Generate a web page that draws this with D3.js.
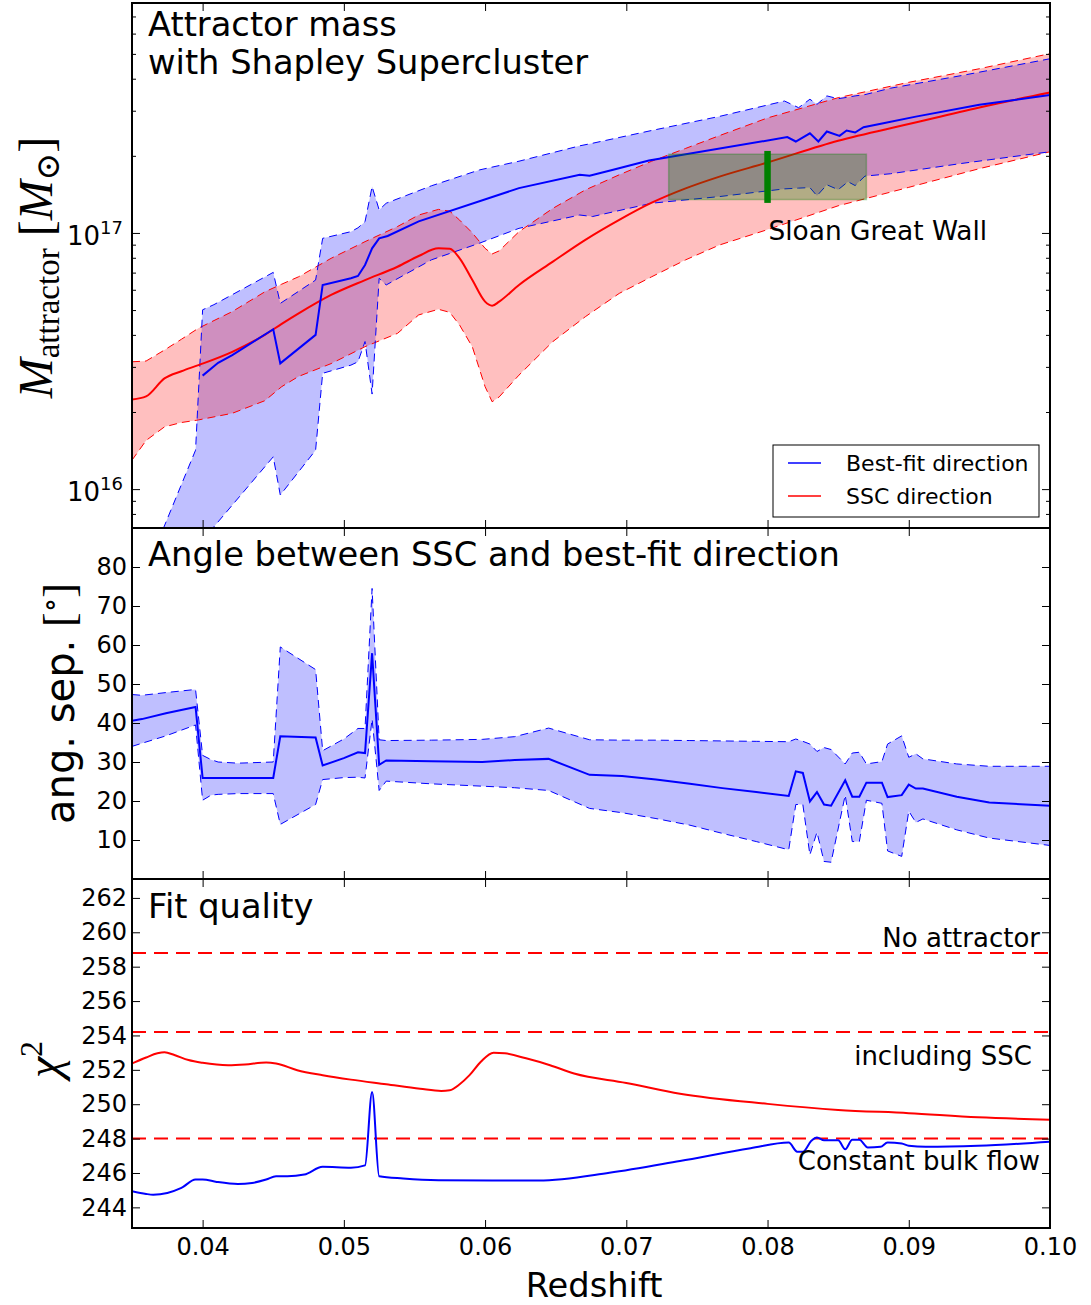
<!DOCTYPE html>
<html>
<head>
<meta charset="utf-8">
<script src="https://cdn.jsdelivr.net/npm/d3@7"></script>
<style>
  body { margin: 0; background: #fff; }
  svg text { font-family: "DejaVu Sans", sans-serif; fill: #000; }
  .math { font-family: "Liberation Serif", "DejaVu Serif", serif; }
</style>
</head>
<body>
<div id="chart"></div>
<script>
// ---- data -------------------------------------------------------------

// SSC direction: log10 attractor mass [Msun], best value and 1-sigma band
const sscZ     = [0.035, 0.036, 0.0373, 0.0385, 0.0397, 0.0421, 0.0444, 0.0456, 0.0468, 0.0491, 0.0515, 0.0538, 0.0553, 0.0567, 0.0575, 0.0582, 0.0591, 0.060, 0.0605, 0.061, 0.0624, 0.0648, 0.0671, 0.0695, 0.0718, 0.0742, 0.0766, 0.080, 0.085, 0.090, 0.095, 0.100];
const sscLogM  = [16.350, 16.362, 16.432, 16.460, 16.484, 16.536, 16.602, 16.645, 16.686, 16.758, 16.816, 16.868, 16.910, 16.940, 16.938, 16.901, 16.816, 16.732, 16.716, 16.732, 16.797, 16.888, 16.973, 17.051, 17.118, 17.174, 17.220, 17.275, 17.360, 17.425, 17.490, 17.548];
const sscLogLo = [16.113, 16.190, 16.243, 16.260, 16.270, 16.296, 16.345, 16.400, 16.440, 16.490, 16.556, 16.608, 16.680, 16.702, 16.690, 16.640, 16.555, 16.400, 16.341, 16.360, 16.445, 16.576, 16.673, 16.764, 16.829, 16.895, 16.953, 17.013, 17.106, 17.178, 17.251, 17.317];
const sscLogHi = [16.497, 16.500, 16.543, 16.585, 16.628, 16.693, 16.770, 16.800, 16.829, 16.901, 16.966, 17.025, 17.070, 17.092, 17.085, 17.050, 17.000, 16.940, 16.918, 16.930, 17.005, 17.096, 17.168, 17.227, 17.280, 17.330, 17.380, 17.449, 17.528, 17.588, 17.641, 17.700];

// best-fit direction: 1-sigma band of log10 mass
const bestBandZ = [0.0365, 0.0395, 0.040, 0.0408, 0.045, 0.0455, 0.048, 0.0485, 0.0505, 0.051, 0.0515, 0.052, 0.0525, 0.053, 0.0562, 0.0596, 0.0624, 0.0667, 0.0676, 0.0718, 0.0766, 0.0812, 0.0822, 0.0830, 0.0835, 0.0842, 0.0850, 0.0857, 0.0862, 0.0869, 0.0887, 0.0937, 0.100];
const bestLogLo = [15.50, 15.68, 15.72, 15.853, 16.126, 15.977, 16.152, 16.452, 16.484, 16.497, 16.576, 16.371, 16.823, 16.797, 16.895, 16.960, 17.018, 17.070, 17.064, 17.116, 17.142, 17.172, 17.175, 17.177, 17.145, 17.188, 17.169, 17.200, 17.185, 17.222, 17.231, 17.271, 17.317];
const bestLogHi = [15.75, 16.152, 16.700, 16.720, 16.846, 16.725, 16.816, 16.979, 17.005, 17.020, 17.044, 17.181, 17.090, 17.116, 17.184, 17.246, 17.280, 17.340, 17.350, 17.400, 17.455, 17.515, 17.489, 17.522, 17.502, 17.535, 17.524, 17.530, 17.535, 17.540, 17.565, 17.614, 17.680];

// best-fit direction: best log10 mass
const bestZ    = [0.040, 0.0411, 0.0421, 0.045, 0.0455, 0.048, 0.0485, 0.0505, 0.051, 0.0515, 0.052, 0.0525, 0.0531, 0.0553, 0.0624, 0.0667, 0.0674, 0.0690, 0.0716, 0.0814, 0.082, 0.083, 0.0836, 0.0842, 0.0851, 0.0856, 0.0862, 0.0868, 0.0882, 0.0905, 0.095, 0.100];
const bestLogM = [16.443, 16.493, 16.523, 16.624, 16.491, 16.602, 16.797, 16.823, 16.832, 16.875, 16.940, 16.979, 16.988, 17.045, 17.175, 17.227, 17.223, 17.246, 17.283, 17.374, 17.357, 17.389, 17.357, 17.396, 17.379, 17.400, 17.392, 17.413, 17.428, 17.454, 17.500, 17.539];

// Sloan Great Wall: redshift / mass box and marker
const sgwZRange    = [0.073, 0.087];
const sgwMassRange = [1.35e17, 2.03e17];
const sgwZ         = 0.080;
const sgwBar       = [1.31e17, 2.09e17];

// angle between SSC and best-fit direction [deg]
const angZ   = [0.035, 0.0357, 0.0374, 0.0395, 0.040, 0.0406, 0.0411, 0.0425, 0.045, 0.0455, 0.048, 0.0485, 0.050, 0.051, 0.0515, 0.052, 0.0525, 0.053, 0.0562, 0.0598, 0.0621, 0.0645, 0.0674, 0.0697, 0.0721, 0.0745, 0.0768, 0.0792, 0.0815, 0.082, 0.0825, 0.083, 0.0835, 0.084, 0.0845, 0.0855, 0.086, 0.0865, 0.087, 0.0881, 0.0885, 0.0895, 0.090, 0.0905, 0.091, 0.0934, 0.0957, 0.100];
const angMid = [40.6, 41.0, 42.5, 44.1, 25.9, 25.9, 25.9, 25.9, 25.9, 36.6, 36.3, 29.1, 31.0, 32.5, 32.3, 57.9, 29.3, 30.4, 30.2, 30.0, 30.5, 30.8, 26.7, 26.4, 25.5, 24.4, 23.3, 22.3, 21.3, 27.6, 27.2, 19.9, 22.3, 19.1, 18.8, 25.3, 21.1, 21.1, 24.7, 24.7, 21.0, 21.5, 24.2, 23.2, 23.2, 21.1, 19.6, 18.8];
const angLo  = [34.0, 34.8, 36.7, 39.5, 20.2, 21.5, 21.7, 21.9, 21.9, 14.0, 19.1, 25.5, 26.0, 26.1, 25.9, 41.0, 22.7, 25.1, 24.4, 23.8, 23.4, 22.7, 18.1, 17.0, 15.5, 13.8, 11.7, 9.6, 7.5, 19.1, 19.1, 6.2, 12.0, 4.5, 4.3, 21.5, 9.6, 9.6, 20.2, 19.4, 7.2, 5.8, 17.4, 14.5, 15.4, 12.6, 10.5, 8.6];
const angHi  = [47.3, 47.1, 47.8, 48.6, 31.7, 30.6, 30.0, 29.7, 30.0, 59.5, 53.7, 32.9, 35.9, 38.6, 38.6, 74.5, 35.7, 35.5, 35.6, 35.8, 36.5, 38.7, 35.7, 35.6, 35.6, 35.5, 35.4, 35.3, 35.2, 35.9, 35.3, 34.6, 32.7, 33.7, 33.2, 29.5, 32.3, 32.5, 29.5, 30.1, 34.6, 36.7, 31.2, 32.1, 30.8, 29.5, 28.9, 28.9];

// fit quality: chi^2 for SSC direction and best-fit direction
const chiSscZ = [0.035, 0.036, 0.0368, 0.0373, 0.038, 0.039, 0.040, 0.0418, 0.043, 0.0445, 0.0452, 0.0467, 0.0485, 0.0505, 0.053, 0.0554, 0.0569, 0.0575, 0.0582, 0.0589, 0.0597, 0.0606, 0.0614, 0.0629, 0.0646, 0.0663, 0.070, 0.0738, 0.080, 0.085, 0.090, 0.0949, 0.100];
const chiSsc  = [252.37, 252.72, 252.96, 253.02, 252.86, 252.57, 252.41, 252.27, 252.31, 252.43, 252.37, 251.98, 251.69, 251.43, 251.16, 250.90, 250.77, 250.81, 251.16, 251.69, 252.47, 253.00, 252.96, 252.67, 252.27, 251.79, 251.24, 250.61, 250.02, 249.67, 249.48, 249.24, 249.10];
const chiBestZ = [0.035, 0.036, 0.0365, 0.0375, 0.0385, 0.0395, 0.040, 0.041, 0.0425, 0.0435, 0.0445, 0.0452, 0.046, 0.0472, 0.0485, 0.0505, 0.0515, 0.052, 0.0525, 0.0542, 0.0567, 0.0605, 0.0638, 0.0688, 0.0738, 0.0788, 0.0815, 0.0821, 0.0825, 0.0831, 0.0835, 0.084, 0.085, 0.0855, 0.086, 0.0865, 0.0871, 0.088, 0.0885, 0.0895, 0.090, 0.0912, 0.0949, 0.100];
const chiBest  = [244.94, 244.78, 244.74, 244.84, 245.13, 245.62, 245.62, 245.48, 245.36, 245.42, 245.62, 245.81, 245.81, 245.91, 246.36, 246.31, 246.44, 250.71, 245.81, 245.68, 245.58, 245.56, 245.56, 246.01, 246.70, 247.44, 247.77, 247.24, 247.24, 247.87, 248.07, 247.91, 247.91, 247.38, 247.93, 247.93, 247.48, 247.52, 247.77, 247.71, 247.58, 247.52, 247.58, 247.81];

// reference chi^2 levels
const chiRefLevels = [258.8, 254.2, 248.0];
const chiRefLabels = ["No attractor", "including SSC", "Constant bulk flow"];

// ticks
const zTicks    = [0.04, 0.05, 0.06, 0.07, 0.08, 0.09, 0.10];
const massMajor = [1e16, 1e17];
const massMinor = [8e15, 9e15, 2e16, 3e16, 4e16, 5e16, 6e16, 7e16, 8e16, 9e16, 2e17, 3e17, 4e17, 5e17, 6e17, 7e17];
const angTicks  = [10, 20, 30, 40, 50, 60, 70, 80];
const chiTicks  = [244, 246, 248, 250, 252, 254, 256, 258, 260, 262];

// ---- layout -----------------------------------------------------------
const W = 1091, H = 1305;
const left = 132, right = 1050;
const topP = [3, 528], midP = [528, 879], botP = [879, 1228];

const BLUE = "#0000ff", RED = "#ff0000";
const TITLE_PX = "33.7px";

const svg = d3.select("#chart").append("svg")
  .attr("width", W).attr("height", H);

const x = d3.scaleLinear().domain([0.035, 0.10]).range([left, right]);
const yMass = d3.scaleLog().domain([7.05e15, 7.9e17]).range([topP[1], topP[0]]);
const yAng = d3.scaleLinear().domain([0, 90]).range([midP[1], midP[0]]);
const yChi = d3.scaleLinear().domain([242.8, 263.1]).range([botP[1], botP[0]]);

const defs = svg.append("defs");
function clipFor(id, p) {
  defs.append("clipPath").attr("id", id)
    .append("rect").attr("x", left).attr("y", p[0])
    .attr("width", right - left).attr("height", p[1] - p[0]);
  return svg.append("g").attr("clip-path", `url(#${id})`);
}

function zip(zs, ...cols) {
  return zs.map((z, i) => ({ z, v: cols.map(c => c[i]) }));
}

const pow10 = v => Math.pow(10, v);

// ---- top panel: attractor mass ---------------------------------------
const gTop = clipFor("clipTop", topP);

const bestBand = zip(bestBandZ, bestLogLo, bestLogHi);
const sscRows = zip(sscZ, sscLogM, sscLogLo, sscLogHi);
const bestRows = zip(bestZ, bestLogM);

const massArea = (lo, hi) => d3.area()
  .x(d => x(d.z)).y0(d => yMass(pow10(d.v[lo]))).y1(d => yMass(pow10(d.v[hi])));
const massLine = k => d3.line().x(d => x(d.z)).y(d => yMass(pow10(d.v[k])));

gTop.append("path").datum(bestBand).attr("d", massArea(0, 1))
  .attr("fill", BLUE).attr("fill-opacity", 0.25);
gTop.append("path").datum(sscRows).attr("d", massArea(1, 2))
  .attr("fill", RED).attr("fill-opacity", 0.25);

[[sscRows, 1, RED], [sscRows, 2, RED], [bestBand, 0, BLUE], [bestBand, 1, BLUE]].forEach(([rows, k, c]) => {
  gTop.append("path").datum(rows).attr("d", massLine(k))
    .attr("fill", "none").attr("stroke", c).attr("stroke-width", 1)
    .attr("stroke-dasharray", "8,5");
});

gTop.append("path").datum(sscRows).attr("d", massLine(0).curve(d3.curveMonotoneX))
  .attr("fill", "none").attr("stroke", RED).attr("stroke-width", 2);
gTop.append("path").datum(bestRows).attr("d", massLine(0))
  .attr("fill", "none").attr("stroke", BLUE).attr("stroke-width", 2);

// Sloan Great Wall box and marker
gTop.append("rect")
  .attr("x", x(sgwZRange[0])).attr("width", x(sgwZRange[1]) - x(sgwZRange[0]))
  .attr("y", yMass(sgwMassRange[1])).attr("height", yMass(sgwMassRange[0]) - yMass(sgwMassRange[1]))
  .attr("fill", "#008000").attr("fill-opacity", 0.3)
  .attr("stroke", "#008000").attr("stroke-opacity", 0.3).attr("stroke-width", 1.5);
gTop.append("line")
  .attr("x1", x(sgwZ)).attr("x2", x(sgwZ))
  .attr("y1", yMass(sgwBar[0])).attr("y2", yMass(sgwBar[1]))
  .attr("stroke", "#008000").attr("stroke-width", 6.5);

svg.append("text").attr("x", x(sgwZ) + 1).attr("y", 240)
  .style("font-size", "26.4px").text("Sloan Great Wall");

svg.append("text").attr("x", 148).attr("y", 36).style("font-size", TITLE_PX).text("Attractor mass");
svg.append("text").attr("x", 148).attr("y", 74).style("font-size", TITLE_PX).text("with Shapley Supercluster");

// legend
const leg = svg.append("g").attr("transform", "translate(773,445)");
leg.append("rect").attr("width", 266).attr("height", 72)
  .attr("fill", "#fff").attr("stroke", "#000").attr("stroke-width", 1);
[["Best-fit direction", BLUE], ["SSC direction", RED]].forEach(([lab, c], i) => {
  const yy = 18 + i * 33;
  leg.append("line").attr("x1", 15).attr("x2", 48).attr("y1", yy).attr("y2", yy)
    .attr("stroke", c).attr("stroke-width", 1.5);
  leg.append("text").attr("x", 73).attr("y", yy + 8).style("font-size", "22px").text(lab);
});

// ---- middle panel: angle ---------------------------------------------
const gMid = clipFor("clipMid", midP);
const angRows = zip(angZ, angMid, angLo, angHi);

gMid.append("path").datum(angRows)
  .attr("d", d3.area().x(d => x(d.z)).y0(d => yAng(d.v[1])).y1(d => yAng(d.v[2])))
  .attr("fill", BLUE).attr("fill-opacity", 0.25);
[1, 2].forEach(k => {
  gMid.append("path").datum(angRows)
    .attr("d", d3.line().x(d => x(d.z)).y(d => yAng(d.v[k])))
    .attr("fill", "none").attr("stroke", BLUE).attr("stroke-width", 1)
    .attr("stroke-dasharray", "8,5");
});
gMid.append("path").datum(angRows)
  .attr("d", d3.line().x(d => x(d.z)).y(d => yAng(d.v[0])))
  .attr("fill", "none").attr("stroke", BLUE).attr("stroke-width", 2);

svg.append("text").attr("x", 148).attr("y", 566).style("font-size", TITLE_PX)
  .text("Angle between SSC and best-fit direction");

// ---- bottom panel: chi^2 ---------------------------------------------
const gBot = clipFor("clipBot", botP);

chiRefLevels.forEach(v => {
  gBot.append("line").attr("x1", left).attr("x2", right)
    .attr("y1", yChi(v)).attr("y2", yChi(v))
    .attr("stroke", RED).attr("stroke-width", 2).attr("stroke-dasharray", "14,8");
});

const chiLine = d3.line().curve(d3.curveMonotoneX).x(d => x(d[0])).y(d => yChi(d[1]));
gBot.append("path").datum(d3.zip(chiSscZ, chiSsc)).attr("d", chiLine)
  .attr("fill", "none").attr("stroke", RED).attr("stroke-width", 2);
gBot.append("path").datum(d3.zip(chiBestZ, chiBest)).attr("d", chiLine)
  .attr("fill", "none").attr("stroke", BLUE).attr("stroke-width", 2);

svg.append("text").attr("x", 148).attr("y", 918).style("font-size", TITLE_PX).text("Fit quality");

const refLabelY = [947, 1065, 1170];
const refLabelX = [1040, 1032, 1040];
chiRefLabels.forEach((lab, i) => {
  svg.append("text").attr("x", refLabelX[i]).attr("y", refLabelY[i])
    .attr("text-anchor", "end").style("font-size", "26px").text(lab);
});

// ---- axes, ticks and frames ------------------------------------------
function xTicksFor(p, withLabels) {
  const bot = svg.append("g").attr("transform", `translate(0,${p[1]})`)
    .call(d3.axisBottom(x).tickValues(zTicks).tickSize(-8).tickPadding(10)
      .tickFormat(withLabels ? d3.format(".2f") : () => ""));
  const top = svg.append("g").attr("transform", `translate(0,${p[0]})`)
    .call(d3.axisTop(x).tickValues(zTicks).tickSize(-8).tickFormat(() => ""));
  [bot, top].forEach(g => g.select(".domain").remove());
  bot.selectAll("text").style("font-size", "24px").style("font-family", "DejaVu Sans");
}

function yTicksFor(scale, values, size, labels) {
  const l = svg.append("g").attr("transform", `translate(${left},0)`)
    .call(d3.axisLeft(scale).tickValues(values).tickSize(-size).tickPadding(5)
      .tickFormat(labels ? d3.format("d") : () => ""));
  const r = svg.append("g").attr("transform", `translate(${right},0)`)
    .call(d3.axisRight(scale).tickValues(values).tickSize(-size).tickFormat(() => ""));
  [l, r].forEach(g => g.select(".domain").remove());
  l.selectAll("text").style("font-size", "24px").style("font-family", "DejaVu Sans");
}

xTicksFor(topP, false);
xTicksFor(midP, false);
xTicksFor(botP, true);

yTicksFor(yMass, massMajor, 8, false);
yTicksFor(yMass, massMinor, 4, false);
yTicksFor(yAng, angTicks, 8, true);
yTicksFor(yChi, chiTicks, 8, true);

// 10^n labels for the log axis
massMajor.forEach(m => {
  const t = svg.append("text").attr("x", 123).attr("y", yMass(m) + 12)
    .attr("text-anchor", "end").style("font-size", "26px");
  t.append("tspan").text("10");
  t.append("tspan").attr("dy", -11).style("font-size", "18px").text(Math.round(Math.log10(m)));
});

[topP, midP, botP].forEach(p => {
  svg.append("rect").attr("x", left).attr("y", p[0])
    .attr("width", right - left).attr("height", p[1] - p[0])
    .attr("fill", "none").attr("stroke", "#000").attr("stroke-width", 2);
});

// axis titles
svg.append("text").attr("x", (left + right) / 2 + 3).attr("y", 1297)
  .attr("text-anchor", "middle").style("font-size", TITLE_PX).text("Redshift");

const massLab = svg.append("text").attr("class", "math")
  .attr("transform", `translate(52,${(topP[0] + topP[1]) / 2 + 2}) rotate(-90)`)
  .attr("text-anchor", "middle").style("font-size", "48px");
massLab.append("tspan").style("font-style", "italic").text("M");
massLab.append("tspan").attr("dy", 7).style("font-size", "33px").text("attractor");
massLab.append("tspan").attr("dy", -7).text(" [");
massLab.append("tspan").style("font-style", "italic").text("M");
massLab.append("tspan").attr("dy", 7).style("font-size", "33px").text("\u2299");
massLab.append("tspan").attr("dy", -7).text("]");

const angLab = svg.append("text")
  .attr("transform", `translate(74,${(midP[0] + midP[1]) / 2}) rotate(-90)`)
  .attr("text-anchor", "middle").style("font-size", "40px");
angLab.append("tspan").text("ang. sep. ");
angLab.append("tspan").attr("class", "math").style("font-size", "44px").text("[");
angLab.append("tspan").attr("class", "math").attr("dy", -14).style("font-size", "30px").text("\u2218");
angLab.append("tspan").attr("class", "math").attr("dy", 14).style("font-size", "44px").text("]");

const chiLab = svg.append("text").attr("class", "math")
  .attr("transform", `translate(60,${(botP[0] + botP[1]) / 2 + 6}) rotate(-90)`)
  .attr("text-anchor", "middle").style("font-size", "48px");
chiLab.append("tspan").style("font-style", "italic").text("\u03c7");
chiLab.append("tspan").attr("dy", -18).style("font-size", "32px").text("2");
</script>
</body>
</html>
